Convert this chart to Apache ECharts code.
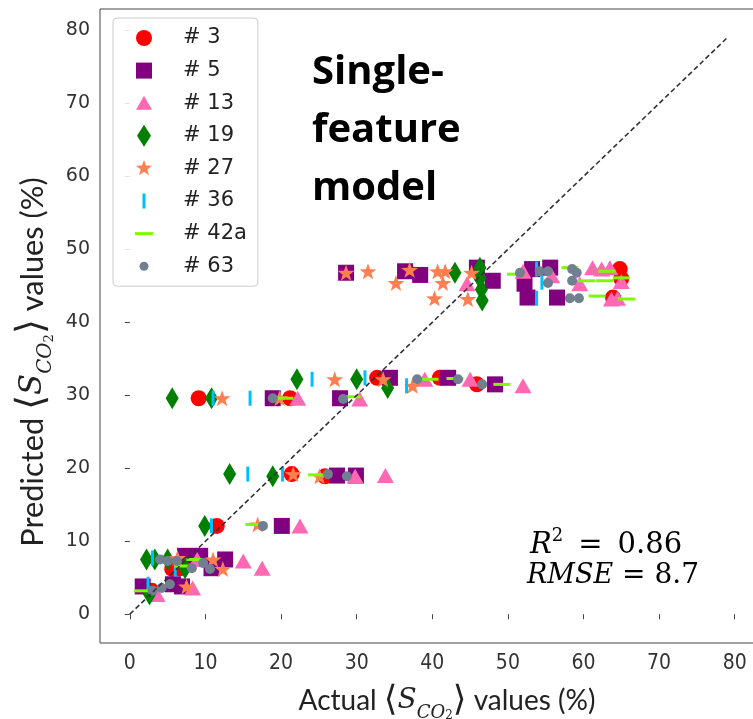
<!DOCTYPE html>
<html>
<head>
<meta charset="utf-8">
<script src="https://cdn.jsdelivr.net/npm/echarts@6/dist/echarts.min.js"></script>
<style>
  html, body { margin: 0; padding: 0; background: #fff; }
  #main { width: 753px; height: 719px; }
</style>
</head>
<body>
<div id="main"></div>
<script>
// tick values shared by both axes
const ticks = [0, 10, 20, 30, 40, 50, 60, 70, 80];

// [actual, predicted] pairs, one array per sample
const s3 = [[2.9, 3.2], [5.6, 6.2], [6.6, 6.3], [11.5, 12.1], [21.4, 19.2], [25.8, 18.9],
  [9.1, 29.6], [21.2, 29.6], [32.7, 32.4], [41.0, 32.4], [45.9, 31.5],
  [64.8, 47.3], [65.0, 46.0], [63.9, 43.4]];
const s5 = [[1.7, 3.8], [5.7, 4.1], [6.9, 3.8], [7.3, 8.0], [9.3, 8.0], [10.8, 6.3], [12.6, 7.5],
  [20.1, 12.1], [27.4, 19.0], [29.9, 19.0],
  [18.9, 29.6], [27.8, 29.6], [34.4, 32.4], [42.1, 32.4], [48.3, 31.5],
  [28.6, 46.8], [36.4, 47.0], [38.4, 46.5], [45.9, 47.5], [48.0, 45.7], [53.2, 47.3],
  [52.2, 45.3], [52.6, 43.4], [55.6, 47.5], [56.5, 43.4]];
const s13 = [[3.6, 2.7], [8.3, 3.6], [8.9, 7.5], [15.0, 7.3], [17.5, 6.3], [22.5, 12.1],
  [29.8, 18.9], [33.8, 19.0],
  [22.2, 29.6], [30.4, 29.5], [39.0, 32.2], [45.0, 32.2], [52.0, 31.3],
  [44.6, 45.3], [52.0, 47.0], [55.8, 46.4], [59.5, 45.3], [61.2, 47.5], [62.4, 47.3],
  [63.5, 47.5], [63.7, 43.2], [64.5, 43.3], [65.0, 45.6]];
const s19 = [[2.2, 7.5], [3.3, 7.5], [5.0, 7.5], [7.3, 6.3], [2.6, 2.7], [9.9, 12.1],
  [13.2, 19.2], [18.9, 18.9],
  [5.6, 29.6], [10.8, 29.6], [22.1, 32.2], [30.0, 32.2], [34.1, 31.0],
  [43.0, 46.8], [46.3, 47.5], [46.3, 46.0], [46.5, 44.5], [46.6, 43.0]];
const s27 = [[6.3, 7.7], [11.0, 7.5], [12.3, 6.2], [7.5, 3.8], [16.9, 12.3],
  [21.6, 19.2], [25.1, 18.9],
  [12.2, 29.6], [19.8, 29.6], [27.1, 32.2], [33.5, 32.2], [37.4, 31.3],
  [28.6, 46.8], [31.5, 47.0], [37.0, 47.2], [35.2, 45.4], [40.7, 47.0], [41.7, 47.0],
  [41.4, 45.4], [40.3, 43.3], [45.2, 46.8], [44.7, 43.2]];
const s36 = [[3.0, 7.7], [6.0, 6.2], [2.4, 4.1], [10.8, 12.1], [15.6, 19.2], [20.2, 19.2],
  [11.0, 29.6], [15.9, 29.6], [24.1, 32.2], [31.1, 32.4], [36.6, 31.3],
  [53.8, 47.3], [53.8, 43.3], [54.5, 45.5]];
const s42a = [[7.0, 6.6], [8.6, 7.5], [1.7, 3.2], [16.4, 12.3], [24.7, 19.1],
  [20.5, 29.6], [29.4, 29.8], [39.7, 32.2], [43.0, 32.3], [49.2, 31.5],
  [51.0, 46.6], [58.2, 47.5], [60.4, 45.7], [63.1, 47.0], [65.0, 46.1], [62.8, 45.7],
  [61.8, 43.6], [65.7, 43.2]];
const s63 = [[4.0, 7.5], [5.0, 7.3], [6.2, 7.3], [8.2, 6.3], [9.7, 7.0], [10.6, 6.2],
  [3.0, 3.2], [4.2, 3.6], [5.3, 4.1], [17.6, 12.1], [26.2, 19.2], [28.7, 18.9],
  [18.9, 29.6], [28.2, 29.5], [38.0, 32.2], [43.4, 32.2], [46.6, 31.5],
  [51.6, 46.8], [54.2, 47.0], [55.3, 47.0], [55.3, 45.4], [58.5, 47.3], [59.1, 46.8],
  [58.5, 45.7], [58.2, 43.3], [59.4, 43.3]];
const diagonal = [[0, 0], [79, 79]];

const STAR = 'path://M50,0L61.8,33.8L97.6,34.5L69,56.2L79.4,90.5L50,70L20.6,90.5L31,56.2L2.4,34.5L38.2,33.8Z';
const DIAMOND = 'path://M50,0L100,50L50,100L0,50Z';

// legend icons, all in an 18x22 box so they keep their own size
const pad = 'path://M0,0M18,22';
const samples = [
  { name: '# 3', data: s3, color: '#ff0000', symbol: 'circle', size: 16,
    icon: pad + 'M1,11A8,8 0 1 0 17,11A8,8 0 1 0 1,11Z' },
  { name: '# 5', data: s5, color: '#800080', symbol: 'rect', size: 16,
    icon: pad + 'M1,3H17V19H1Z' },
  { name: '# 13', data: s13, color: '#ff69b4', symbol: 'triangle', size: [17, 15],
    icon: pad + 'M9,3.5L17,17.5L1,17.5Z' },
  { name: '# 19', data: s19, color: '#008000', symbol: DIAMOND, size: [13, 22],
    icon: pad + 'M9,0L16,11L9,22L2,11Z' },
  { name: '# 27', data: s27, color: '#ff7f50', symbol: STAR, size: [17, 16],
    icon: pad + 'M9,2.5L11,8.2L17.1,8.4L12.2,12.1L14,17.9L9,14.4L4,17.9L5.8,12.1L0.9,8.4L7,8.2Z' },
  { name: '# 36', data: s36, color: '#00bfff', symbol: 'rect', size: [3, 15],
    icon: pad + 'M7.5,3.5H10.5V18.5H7.5Z' },
  { name: '# 42a', data: s42a, color: '#7cfc00', symbol: 'rect', size: [17, 3],
    icon: pad + 'M0,9.5H18V12.5H0Z' },
  { name: '# 63', data: s63, color: '#708090', symbol: 'circle', size: 10,
    icon: pad + 'M4.5,11A4.5,4.5 0 1 0 13.5,11A4.5,4.5 0 1 0 4.5,11Z' }
];

// axis titles with the <S_CO2> term
function titleRich(k) {
  return {
    n: { fontSize: 28 * k, fontFamily: 'Lato', fill: '#222', lineHeight: 42 * k },
    b: { fontSize: 35 * k, fontFamily: 'DejaVu Sans', fill: '#222', lineHeight: 42 * k },
    s: { fontSize: 28 * k, fontFamily: 'DejaVu Serif', fontStyle: 'italic', fill: '#222', lineHeight: 42 * k },
    sub: { fontSize: 18 * k, fontFamily: 'DejaVu Serif', fontStyle: 'italic', fill: '#222', lineHeight: 24 * k, verticalAlign: 'bottom' },
    sub2: { fontSize: 12 * k, fontFamily: 'DejaVu Serif', fill: '#222', lineHeight: 12 * k, verticalAlign: 'bottom' }
  };
}
const sco2 = '{b|⟨}{s|S}{sub|CO}{sub2|2}{b|⟩}';
const xTitle = '{n|Actual }' + sco2 + '{n| values (%)}';
const yTitle = '{n|Predicted }' + sco2 + '{n| values (%)}';

const axisCommon = {
  type: 'value',
  min: -3.95,
  max: 82.95,
  axisLine: { show: false },
  splitLine: { show: false },
  axisTick: { customValues: ticks, length: 5, lineStyle: { color: '#444' } }
};

const chart = echarts.init(document.getElementById('main'));

const series = samples.map(s => ({
  name: s.name,
  type: 'scatter',
  data: s.data,
  symbol: s.symbol,
  symbolSize: s.size,
  itemStyle: { color: s.color, opacity: 1 },
  emphasis: { disabled: true }
}));
series.push({
  type: 'line',
  data: diagonal,
  symbol: 'none',
  lineStyle: { color: '#333', width: 1.6, type: [5, 3] },
  z: 5,
  silent: true
});

chart.setOption({
  animation: false,
  backgroundColor: '#fff',
  grid: {
    left: 100, right: -4, top: 9, bottom: 76,
    outerBoundsMode: 'none',
    show: true, borderColor: '#444', borderWidth: 1
  },
  xAxis: Object.assign({}, axisCommon, {
    axisLabel: {
      customValues: ticks, fontSize: 21, color: '#333', margin: 10,
      fontFamily: '"DejaVu Sans Condensed", "Liberation Sans Narrow", "DejaVu Sans"'
    }
  }),
  yAxis: Object.assign({}, axisCommon, {
    axisLabel: { customValues: ticks, fontSize: 19, color: '#333', fontFamily: 'DejaVu Sans', margin: 10 }
  }),
  legend: {
    orient: 'vertical',
    left: 113,
    top: 18,
    padding: [9, 11, 9, 22],
    itemWidth: 18,
    itemHeight: 22,
    itemGap: 10.6,
    borderColor: '#ccc',
    borderWidth: 1,
    borderRadius: 4,
    backgroundColor: 'rgba(255,255,255,0.85)',
    textStyle: { fontSize: 21, fontFamily: 'DejaVu Sans', color: '#222', lineHeight: 22, padding: [0, 0, 0, 25] },
    data: samples.map(s => ({ name: s.name, icon: s.icon }))
  },
  graphic: [
    {
      type: 'text', x: 447, y: 701,
      style: { text: xTitle, rich: titleRich(1), align: 'center', verticalAlign: 'middle' }
    },
    {
      type: 'text', x: 33, y: 362, rotation: Math.PI / 2,
      style: { text: yTitle, rich: titleRich(1.1), align: 'center', verticalAlign: 'middle' }
    },
    {
      type: 'text', left: 312, top: 44,
      style: { text: 'Single-\nfeature\nmodel', font: 'bold 40px "Open Sans"', lineHeight: 58, fill: '#000' }
    },
    {
      type: 'text', left: 530, top: 527,
      style: {
        text: '{i|R}{sup|2}{n|\u2009 = \u20090.86}',
        rich: {
          i: { fontSize: 29, fontFamily: 'DejaVu Serif', fontStyle: 'italic', lineHeight: 36, fill: '#000' },
          sup: { fontSize: 18, fontFamily: 'DejaVu Serif', lineHeight: 22, verticalAlign: 'top', fill: '#000' },
          n: { fontSize: 29, fontFamily: 'DejaVu Serif', lineHeight: 36, fill: '#000' }
        }
      }
    },
    {
      type: 'text', left: 527, top: 562,
      style: {
        text: '{i|RMSE}{n| = 8.7}',
        rich: {
          i: { fontSize: 27, fontFamily: 'DejaVu Serif', fontStyle: 'italic', lineHeight: 36, fill: '#000' },
          n: { fontSize: 28, fontFamily: 'DejaVu Serif', lineHeight: 36, fill: '#000' }
        }
      }
    }
  ],
  series: series
});
</script>
</body>
</html>
